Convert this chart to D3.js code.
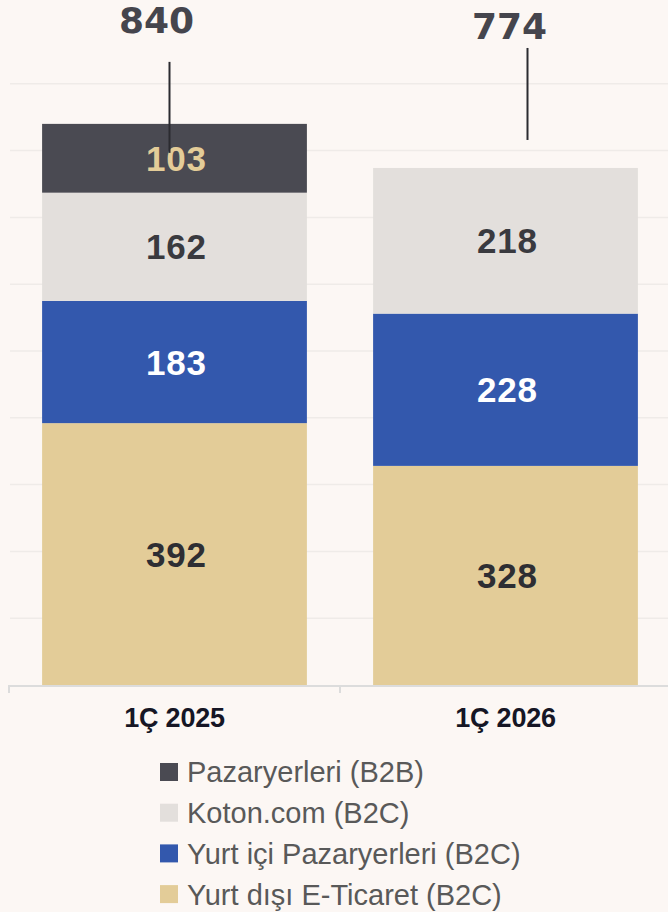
<!DOCTYPE html>
<html>
<head>
<meta charset="utf-8">
<script src="https://cdn.jsdelivr.net/npm/d3@7"></script>
<style>
  html, body { margin: 0; padding: 0; background: #fcf7f4; }
  svg { display: block; font-family: "Liberation Sans", Arial, sans-serif; }
</style>
</head>
<body>
<div id="chart"></div>
<script>
const categories = ['1Ç 2025', '1Ç 2026'];
const seriesNames = ['Yurt dışı E-Ticaret (B2C)', 'Yurt içi Pazaryerleri (B2C)', 'Koton.com (B2C)', 'Pazaryerleri (B2B)'];
const yurtDisi = [392, 328];
const yurtIci = [183, 228];
const kotonCom = [162, 218];
const pazaryerleriB2B = [103, 0];
const totals = [840, 774];
const gridTicks = [100, 200, 300, 400, 500, 600, 700, 800, 900];

const colors = ['#e3cc98', '#3358ad', '#e3dfdc', '#4a4a52'];
const labelColors = ['#2e2e33', '#ffffff', '#3a3a3f', '#e3cc98'];

const width = 668;
const height = 912;

const svg = d3.select('#chart')
  .append('svg')
  .attr('width', width)
  .attr('height', height);

const x = d3.scaleBand()
  .domain(categories)
  .range([9, 671])
  .paddingInner(0.2)
  .paddingOuter(0.1);

const y = d3.scaleLinear()
  .domain([0, 1000])
  .range([685, 17]);

// gridlines
svg.append('g')
  .selectAll('line')
  .data(gridTicks)
  .join('line')
    .attr('x1', 10)
    .attr('x2', width)
    .attr('y1', d => y(d))
    .attr('y2', d => y(d))
    .attr('stroke', '#efebe8')
    .attr('stroke-width', 1.5);

// stacked data
const rows = categories.map((c, i) => ({
  cat: c,
  s0: yurtDisi[i], s1: yurtIci[i], s2: kotonCom[i], s3: pazaryerleriB2B[i]
}));
const stack = d3.stack().keys(['s0', 's1', 's2', 's3']);
const layers = stack(rows);

const layerG = svg.append('g')
  .selectAll('g')
  .data(layers)
  .join('g')
    .attr('fill', (d, i) => colors[i]);

layerG.selectAll('rect')
  .data(d => d)
  .join('rect')
    .attr('x', d => x(d.data.cat))
    .attr('y', d => y(d[1]))
    .attr('width', x.bandwidth())
    .attr('height', d => y(d[0]) - y(d[1]));

// segment labels
layers.forEach((layer, li) => {
  svg.append('g')
    .selectAll('text')
    .data(layer.filter(d => d[1] - d[0] > 0))
    .join('text')
      .attr('x', d => x(d.data.cat) + x.bandwidth() / 2 + 2)
      .attr('y', d => (y(d[0]) + y(d[1])) / 2)
      .attr('dy', '0.36em')
      .attr('text-anchor', 'middle')
      .attr('font-size', 35)
      .attr('font-weight', 'bold')
      .attr('letter-spacing', 0.8)
      .attr('fill', labelColors[li])
      .text(d => d[1] - d[0]);
});

// total labels with leader lines
const totalLayout = [
  { dx: -18, labelOff: 91, lineDx: -5, lineTop: 62, lineBottom: -29 },
  { dx: 4, labelOff: 129, lineDx: 22, lineTop: 120, lineBottom: 28 }
];

svg.append('g')
  .selectAll('line')
  .data(totals)
  .join('line')
    .attr('x1', (d, i) => x(categories[i]) + x.bandwidth() / 2 + totalLayout[i].lineDx)
    .attr('x2', (d, i) => x(categories[i]) + x.bandwidth() / 2 + totalLayout[i].lineDx)
    .attr('y1', (d, i) => y(d) - totalLayout[i].lineTop)
    .attr('y2', (d, i) => y(d) - totalLayout[i].lineBottom)
    .attr('stroke', '#2b2b30')
    .attr('stroke-width', 2);

svg.append('g')
  .selectAll('text')
  .data(totals)
  .join('text')
    .attr('x', (d, i) => x(categories[i]) + x.bandwidth() / 2 + totalLayout[i].dx)
    .attr('y', (d, i) => y(d) - totalLayout[i].labelOff)
    .attr('text-anchor', 'middle')
    .attr('font-family', '"DejaVu Sans", sans-serif')
    .attr('font-size', 36)
    .attr('font-weight', 'bold')
    .attr('fill', '#45454d')
    .text(d => d);

// x axis
const axisG = svg.append('g');
axisG.append('line')
  .attr('x1', 9).attr('x2', width)
  .attr('y1', y(0) + 1).attr('y2', y(0) + 1)
  .attr('stroke', '#dcdcdc').attr('stroke-width', 2);
axisG.selectAll('line.tick')
  .data(categories)
  .join('line')
    .attr('class', 'tick')
    .attr('x1', d => x(d) - x.step() * 0.1)
    .attr('x2', d => x(d) - x.step() * 0.1)
    .attr('y1', y(0))
    .attr('y2', y(0) + 8)
    .attr('stroke', '#dcdcdc').attr('stroke-width', 2);
axisG.selectAll('text')
  .data(categories)
  .join('text')
    .attr('x', d => x(d) + x.bandwidth() / 2)
    .attr('y', 727)
    .attr('text-anchor', 'middle')
    .attr('font-size', 27)
    .attr('font-weight', 'bold')
    .attr('letter-spacing', -0.2)
    .attr('fill', '#161625')
    .text(d => d);

// legend (top to bottom: reverse stack order)
const legendItems = seriesNames.map((n, i) => ({ name: n, color: colors[i] })).reverse();
const legend = svg.append('g')
  .selectAll('g')
  .data(legendItems)
  .join('g')
    .attr('transform', (d, i) => `translate(160, ${772 + i * 40.7})`);
legend.append('rect')
  .attr('x', 0).attr('y', -9)
  .attr('width', 18).attr('height', 18)
  .attr('fill', d => d.color);
legend.append('text')
  .attr('x', 27)
  .attr('dy', '0.36em')
  .attr('font-size', 29)
  .attr('fill', '#595959')
  .text(d => d.name);
</script>
</body>
</html>
